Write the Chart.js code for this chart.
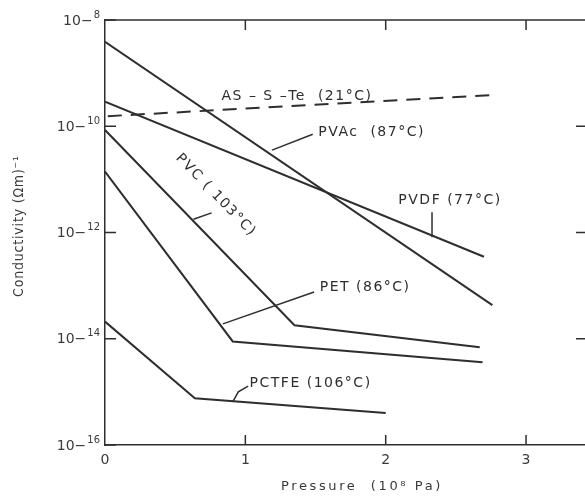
<!DOCTYPE html>
<html>
<head>
<meta charset="utf-8">
<script src="https://cdn.jsdelivr.net/npm/chart.js@4"></script>
<style>
  body { margin: 0; background: #fff; }
  canvas { display: block; }
</style>
</head>
<body>
<canvas id="chart" width="585" height="496"></canvas>
<script>
// Pressure (10^8 Pa) and conductivity (Ohm m)^-1
const pvacP = [0, 2.76];
const pvacC = [3.9e-9, 4.3e-14];

const pvdfP = [0, 2.70];
const pvdfC = [2.9e-10, 3.5e-13];

const pvcP = [0, 1.35, 2.67];
const pvcC = [8.5e-11, 1.8e-14, 6.9e-15];

const petP = [0, 0.91, 2.69];
const petC = [1.4e-11, 8.9e-15, 3.6e-15];

const pctfeP = [0, 0.64, 2.0];
const pctfeC = [2.1e-14, 7.6e-16, 4.0e-16];

const asteP = [0.02, 2.8];
const asteC = [1.55e-10, 3.9e-10];

const pressureTicks = [0, 1, 2, 3];
const decadeTicks = [-16, -14, -12, -10, -8];

const ink = '#2e2e2e';
const textInk = '#3a3a3a';

function toPoints(xs, ys) {
  return xs.map((x, i) => ({ x: x, y: ys[i] }));
}

function series(xs, ys, dashed) {
  return {
    data: toPoints(xs, ys),
    borderColor: ink,
    borderWidth: 2,
    borderDash: dashed ? [14, 9] : [],
    pointRadius: 0,
    tension: 0,
    fill: false
  };
}

// curve labels, placed in data units
const labels = [
  { text: 'AS – S –Te  (21°C)', x: 0.83, y: -9.43, leader: [] },
  { text: 'PVAc  (87°C)', x: 1.52, y: -10.11, leader: [[1.19, -10.45], [1.48, -10.15]] },
  { text: 'PVDF (77°C)', x: 2.09, y: -11.39, leader: [[2.33, -11.62], [2.33, -12.09]] },
  { text: 'PVC ( 103°C)', x: 0.79, y: -11.30, rotate: 46, leader: [[0.63, -11.75], [0.76, -11.63]] },
  { text: 'PET (86°C)', x: 1.53, y: -13.03, leader: [[0.84, -13.72], [1.49, -13.12]] },
  { text: 'PCTFE (106°C)', x: 1.03, y: -14.84, leader: [[0.91, -15.19], [0.95, -15.0], [1.02, -14.89]] }
];

const framePlugin = {
  id: 'frame',
  beforeDraw(chart) {
    const c = chart.ctx;
    c.save();
    c.fillStyle = '#fff';
    c.fillRect(0, 0, chart.width, chart.height);
    c.restore();
  },
  afterDraw(chart) {
    const c = chart.ctx;
    const a = chart.chartArea;
    const xs = chart.scales.x;
    const ys = chart.scales.y;
    c.save();
    c.strokeStyle = ink;
    c.lineWidth = 1.5;

    // top edge of the box
    c.beginPath();
    c.moveTo(a.left, a.top);
    c.lineTo(chart.width, a.top);
    c.stroke();

    // inward tick marks
    c.beginPath();
    decadeTicks.forEach(e => {
      const py = ys.getPixelForValue(Math.pow(10, e));
      c.moveTo(a.left, py);
      c.lineTo(a.left + 11, py);
      if (e > -16 && e < -8) {
        c.moveTo(chart.width - 9, py);
        c.lineTo(chart.width, py);
      }
    });
    pressureTicks.forEach(p => {
      if (p === 0) return;
      const px = xs.getPixelForValue(p);
      c.moveTo(px, a.bottom);
      c.lineTo(px, a.bottom - 10);
      c.moveTo(px, a.top);
      c.lineTo(px, a.top + 10);
    });
    c.stroke();

    // decade labels: 10 and minus at full size, exponent digits raised
    c.fillStyle = textInk;
    c.textBaseline = 'middle';
    decadeTicks.forEach(e => {
      const py = ys.getPixelForValue(Math.pow(10, e)) + 1;
      const digits = String(-e);
      c.font = '10px "DejaVu Sans"';
      const dw = c.measureText(digits).width;
      c.textAlign = 'right';
      c.fillText(digits, 100, py - 6);
      c.font = '14px "DejaVu Sans"';
      c.fillText('10−', 100 - dw - 1, py);
    });

    // leader lines and curve labels
    c.lineWidth = 1.5;
    c.fillStyle = ink;
    c.font = '14px "DejaVu Sans"';
    c.letterSpacing = '1.5px';
    labels.forEach(l => {
      if (l.leader.length) {
        c.beginPath();
        l.leader.forEach((pt, i) => {
          const px = xs.getPixelForValue(pt[0]);
          const py = ys.getPixelForValue(Math.pow(10, pt[1]));
          if (i === 0) c.moveTo(px, py); else c.lineTo(px, py);
        });
        c.stroke();
      }
      const tx = xs.getPixelForValue(l.x);
      const ty = ys.getPixelForValue(Math.pow(10, l.y));
      c.save();
      c.translate(tx, ty);
      c.textBaseline = 'middle';
      if (l.rotate) {
        c.rotate(l.rotate * Math.PI / 180);
        c.textAlign = 'center';
      } else {
        c.textAlign = 'left';
      }
      c.fillText(l.text, 0, 0);
      c.restore();
    });

    // axis titles
    c.fillStyle = textInk;
    c.font = '14px "DejaVu Sans Condensed"';
    c.letterSpacing = '0.8px';
    c.save();
    c.translate(19, 226);
    c.rotate(-Math.PI / 2);
    c.textAlign = 'center';
    c.textBaseline = 'middle';
    c.fillText('Conductivity (Ωm)⁻¹', 0, 0);
    c.restore();

    c.font = '13px "DejaVu Sans"';
    c.letterSpacing = '2.6px';
    c.textAlign = 'center';
    c.textBaseline = 'middle';
    c.fillText('Pressure  (10⁸ Pa)', 362, 487);
    c.restore();
  }
};

new Chart(document.getElementById('chart'), {
  type: 'line',
  data: {
    datasets: [
      series(pvacP, pvacC),
      series(pvdfP, pvdfC),
      series(pvcP, pvcC),
      series(petP, petC),
      series(pctfeP, pctfeC),
      series(asteP, asteC, true)
    ]
  },
  options: {
    responsive: false,
    animation: false,
    layout: { padding: { top: 20, right: 0, left: 0, bottom: 0 } },
    plugins: {
      legend: { display: false },
      tooltip: { enabled: false }
    },
    scales: {
      x: {
        type: 'linear',
        min: 0,
        max: 3.42,
        afterFit(scale) { scale.height = 51; },
        afterBuildTicks(scale) { scale.ticks = pressureTicks.map(v => ({ value: v })); },
        grid: { display: false, drawTicks: false },
        border: { display: true, color: ink, width: 1.5 },
        ticks: {
          padding: 7,
          color: textInk,
          font: { family: 'DejaVu Sans', size: 14 },
          callback: v => String(v)
        }
      },
      y: {
        type: 'logarithmic',
        min: 1e-16,
        max: 1e-8,
        afterFit(scale) { scale.width = 105; },
        afterBuildTicks(scale) { scale.ticks = decadeTicks.map(e => ({ value: Math.pow(10, e) })); },
        grid: { display: false, drawTicks: false },
        border: { display: true, color: ink, width: 1.5 },
        ticks: { display: false }
      }
    }
  },
  plugins: [framePlugin]
});
</script>
</body>
</html>
